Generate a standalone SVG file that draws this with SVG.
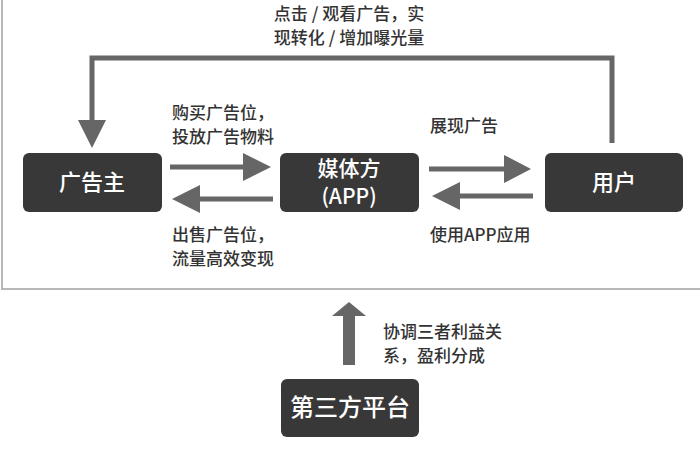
<svg xmlns="http://www.w3.org/2000/svg" width="700" height="462" viewBox="0 0 700 462">
<style>
.box{fill:#383838}
.nt{fill:#fff;font-family:"Noto Sans CJK SC","Noto Sans",sans-serif;font-size:22px;text-anchor:middle;font-weight:500}
.lb{fill:#333;font-family:"Noto Sans CJK SC","Noto Sans",sans-serif;font-size:17px;font-weight:500}
.ln{stroke:#666;stroke-width:5;fill:none}
.hd{fill:#666}
</style>
<rect width="700" height="462" fill="#fff"/>
<rect x="2" y="-10" width="720" height="299" fill="none" stroke="#b8b8b8" stroke-width="2"/>
<g id="connectors">
<path class="ln" d="M612,143 V58 H92 V121"/>
<polygon class="hd" points="78,120 106,120 92,148"/>
<line class="ln" x1="170" y1="167" x2="245" y2="167"/>
<polygon class="hd" points="243,153 271,167 243,181"/>
<line class="ln" x1="198" y1="199" x2="273" y2="199"/>
<polygon class="hd" points="200,185 172,199 200,213"/>
<line class="ln" x1="429" y1="169" x2="506" y2="169"/>
<polygon class="hd" points="504,155 531,169 504,183"/>
<line class="ln" x1="458" y1="196" x2="533" y2="196"/>
<polygon class="hd" points="460,182 432,196 460,210"/>
<rect class="hd" x="343" y="314" width="12" height="51"/>
<polygon class="hd" points="332,316 349,302 366,316"/>
</g>
<g id="labels">
<text class="lb" x="349" y="20" text-anchor="middle">点击 / 观看广告，实</text>
<text class="lb" x="349" y="44" text-anchor="middle">现转化 / 增加曝光量</text>
<text class="lb" x="172" y="119">购买广告位，</text>
<text class="lb" x="172" y="143">投放广告物料</text>
<text class="lb" x="430" y="132">展现广告</text>
<text class="lb" x="172" y="241">出售广告位，</text>
<text class="lb" x="172" y="265">流量高效变现</text>
<text class="lb" x="430" y="241">使用APP应用</text>
<text class="lb" x="383" y="338">协调三者利益关</text>
<text class="lb" x="383" y="362">系，盈利分成</text>
</g>
<g id="advertiser">
<rect class="box" x="23" y="153" width="139" height="59" rx="6"/>
<text class="nt" x="92" y="190">广告主</text>
</g>
<g id="media">
<rect class="box" x="280" y="153" width="139" height="59" rx="6"/>
<text class="nt" x="349" y="176" style="font-size:21px">媒体方</text>
<text class="nt" x="349" y="204" style="font-size:21px">(APP)</text>
</g>
<g id="user">
<rect class="box" x="545" y="153" width="138" height="59" rx="6"/>
<text class="nt" x="614" y="190">用户</text>
</g>
<g id="platform">
<rect class="box" x="281" y="379" width="138" height="58" rx="6"/>
<text class="nt" x="350" y="416" style="font-size:24px">第三方平台</text>
</g>
</svg>
